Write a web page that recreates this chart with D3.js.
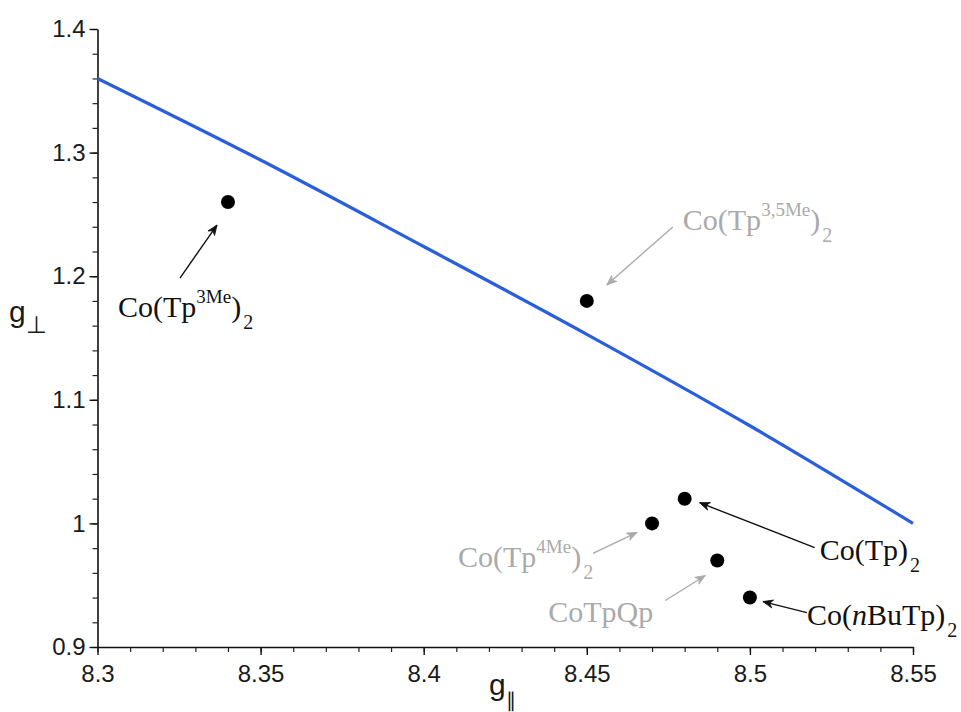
<!DOCTYPE html>
<html>
<head>
<meta charset="utf-8">
<script src="https://cdn.jsdelivr.net/npm/d3@7"></script>
<style>
  html, body { margin: 0; padding: 0; background: #fff; }
  svg { display: block; }
</style>
</head>
<body>
<div id="chart"></div>
<script>
// Measured g-tensor components of the Co(II) complexes
const gPar  = [8.34, 8.45, 8.47, 8.48, 8.49, 8.50];
const gPerp = [1.26, 1.18, 1.00, 1.02, 0.97, 0.94];

// Calculated g_perp vs g_par relation
const curveGPar  = [8.30, 8.35, 8.40, 8.45, 8.50, 8.55];
const curveGPerp = [1.36, 1.294, 1.224, 1.153, 1.079, 1.00];

const xTicks = [8.3, 8.35, 8.4, 8.45, 8.5, 8.55];
const yTicks = [0.9, 1, 1.1, 1.2, 1.3, 1.4];

// Compound names, split into [text, role] pieces (role: n = normal, sup, sub, i = italic)
const names = [
  [["Co(Tp", "n"], ["3Me", "sup"], [")", "n"], ["2", "sub"]],
  [["Co(Tp", "n"], ["3,5Me", "sup"], [")", "n"], ["2", "sub"]],
  [["Co(Tp", "n"], ["4Me", "sup"], [")", "n"], ["2", "sub"]],
  [["Co(Tp)", "n"], ["2", "sub"]],
  [["CoTpQp", "n"]],
  [["Co(", "n"], ["n", "i"], ["BuTp)", "n"], ["2", "sub"]]
];

// Annotation layout, in pixels relative to each point: arrow tip, arrow tail, text start
const annot = [
  { tip: [-11, 23], tail: [-48, 76], text: [-110, 115], color: "#111" },
  { tip: [20, -16], tail: [86, -74], text: [96, -71], color: "#aaa" },
  { tip: [-15, 9], tail: [-59, 30], text: [-194, 44], color: "#aaa" },
  { tip: [15, 4], tail: [130, 49], text: [135, 61], color: "#111" },
  { tip: [-12, 15], tail: [-52, 40], text: [-169, 62], color: "#aaa" },
  { tip: [13, 4], tail: [57, 15], text: [57, 27], color: "#111" }
];

const W = 961, H = 712;
const svg = d3.select("#chart").append("svg").attr("width", W).attr("height", H);

const x = d3.scaleLinear().domain([8.3, 8.55]).range([97.5, 913]);
const y = d3.scaleLinear().domain([0.9, 1.4]).range([647, 29]);

const tickFont = "'Liberation Sans', Arial, sans-serif";

// Minor ticks
svg.append("g")
  .attr("transform", `translate(0,${y(0.9)})`)
  .call(d3.axisBottom(x).tickValues(d3.range(0, 26).map(i => 8.3 + i * 0.01)).tickSize(5).tickSizeOuter(0).tickFormat(""))
  .call(g => g.select(".domain").remove())
  .call(g => g.selectAll("line").attr("stroke", "#222").attr("stroke-width", 1.2));
svg.append("g")
  .attr("transform", `translate(${x(8.3)},0)`)
  .call(d3.axisLeft(y).tickValues(d3.range(0, 26).map(i => 0.9 + i * 0.02)).tickSize(5).tickSizeOuter(0).tickFormat(""))
  .call(g => g.select(".domain").remove())
  .call(g => g.selectAll("line").attr("stroke", "#222").attr("stroke-width", 1.2));

// Major axes
const xAxis = svg.append("g")
  .attr("transform", `translate(0,${y(0.9)})`)
  .call(d3.axisBottom(x).tickValues(xTicks).tickFormat(d => String(d)).tickSize(8).tickSizeOuter(0).tickPadding(10));
const yAxis = svg.append("g")
  .attr("transform", `translate(${x(8.3)},0)`)
  .call(d3.axisLeft(y).tickValues(yTicks).tickFormat(d => String(d)).tickSize(8).tickSizeOuter(0).tickPadding(4));

[xAxis, yAxis].forEach(a => {
  a.select(".domain").attr("stroke", "#111").attr("stroke-width", 1.6);
  a.selectAll(".tick line").attr("stroke", "#111").attr("stroke-width", 1.4);
  a.selectAll(".tick text")
    .attr("fill", "#1a1a1a")
    .style("font-family", tickFont)
    .style("font-size", "24px");
});

// Axis titles
const xt = svg.append("text").attr("x", 489).attr("y", 695)
  .style("font-family", tickFont).style("font-size", "30px").attr("fill", "#1a1a1a");
xt.append("tspan").text("g");
xt.append("tspan").attr("dy", 12).style("font-size", "20px").text("\u2225");

const yt = svg.append("text").attr("x", 9).attr("y", 322)
  .style("font-family", tickFont).style("font-size", "30px").attr("fill", "#1a1a1a");
yt.append("tspan").text("g");
yt.append("tspan").attr("dy", 11).style("font-size", "24px").text("\u22A5");

// Calculated curve
svg.append("path")
  .datum(curveGPar.map((d, i) => [d, curveGPerp[i]]))
  .attr("fill", "none")
  .attr("stroke", "#2b5fd9")
  .attr("stroke-width", 3.2)
  .attr("d", d3.line().x(d => x(d[0])).y(d => y(d[1])).curve(d3.curveMonotoneX));

// Arrow markers
const defs = svg.append("defs");
[["arrBlack", "#111"], ["arrGray", "#aaa"]].forEach(([id, c]) => {
  defs.append("marker")
    .attr("id", id)
    .attr("viewBox", "-12 -6 14 12")
    .attr("refX", 0).attr("refY", 0)
    .attr("markerWidth", 14).attr("markerHeight", 12)
    .attr("markerUnits", "userSpaceOnUse")
    .attr("orient", "auto")
    .append("path")
    .attr("d", "M-10,-4 L0,0 L-10,4 L-7,0 Z")
    .attr("fill", c).attr("stroke", c).attr("stroke-width", 0.8);
});

// Data points
const pts = gPar.map((d, i) => ({ px: x(d), py: y(gPerp[i]), i }));
svg.append("g").selectAll("circle").data(pts).join("circle")
  .attr("cx", d => d.px).attr("cy", d => d.py).attr("r", 7).attr("fill", "#000");

// Annotations: arrows and compound names
const ann = svg.append("g");
pts.forEach(p => {
  const a = annot[p.i];
  ann.append("line")
    .attr("x1", p.px + a.tail[0]).attr("y1", p.py + a.tail[1])
    .attr("x2", p.px + a.tip[0]).attr("y2", p.py + a.tip[1])
    .attr("stroke", a.color).attr("stroke-width", 1.4)
    .attr("marker-end", `url(#${a.color === "#111" ? "arrBlack" : "arrGray"})`);

  const t = ann.append("text")
    .attr("x", p.px + a.text[0]).attr("y", p.py + a.text[1])
    .attr("fill", a.color)
    .style("font-family", "'Liberation Serif', 'Times New Roman', serif")
    .style("font-size", "30px");
  let shift = 0;
  names[p.i].forEach(([s, role]) => {
    const ts = t.append("tspan").text(s);
    let target = 0;
    if (role === "sup") { target = -14; ts.style("font-size", "19px"); }
    else if (role === "sub") { target = 12; ts.style("font-size", "20px").attr("dx", 2); }
    else if (role === "i") { ts.style("font-style", "italic"); }
    ts.attr("dy", target - shift);
    shift = target;
  });
});
</script>
</body>
</html>
